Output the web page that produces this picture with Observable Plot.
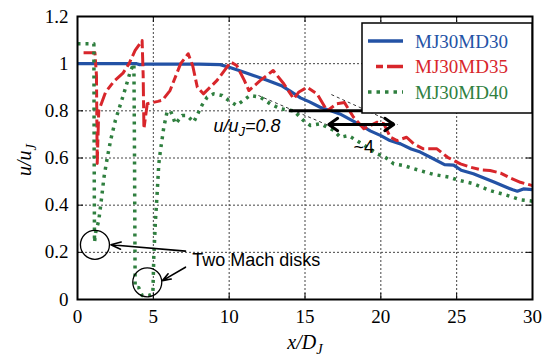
<!DOCTYPE html>
<html><head><meta charset="utf-8">
<script src="https://cdn.jsdelivr.net/npm/d3@7"></script>
<script src="https://cdn.jsdelivr.net/npm/@observablehq/plot@0.6"></script>
<style>body{margin:0;background:#fff}#chart{width:550px;height:356px}</style>
</head><body><div id="chart"></div>
<script>
// ---- data ----
const xTicks = [0, 5, 10, 15, 20, 25, 30];
const yTicks = [0, 0.2, 0.4, 0.6, 0.8, 1.0, 1.2];
const yTickLabels = ["0", "0.2", "0.4", "0.6", "0.8", "1", "1.2"];
const seriesNames = ["MJ30MD30", "MJ30MD35", "MJ30MD40"];
const seriesColors = ["#2352a5", "#d8262b", "#2f7f3f"];

const md30X = [0, 2, 3.9, 4.1, 4.5, 6, 8, 9.4, 10.0, 10.8, 11.6, 12.5, 13.5, 14.0, 14.7, 15.3, 16.0, 16.7, 17.3, 18.0, 18.7, 19.3, 20.0, 20.6, 21.3, 22.0, 22.6, 23.3, 24.2, 24.8, 25.3, 26.1, 26.8, 27.5, 28.2, 28.7, 29.0, 29.4, 30];
const md30Y = [1.0, 1.0, 1.0, 0.996, 0.998, 0.998, 0.998, 0.996, 0.985, 0.968, 0.95, 0.93, 0.905, 0.885, 0.855, 0.838, 0.815, 0.8, 0.787, 0.763, 0.738, 0.715, 0.695, 0.674, 0.66, 0.638, 0.625, 0.602, 0.572, 0.57, 0.548, 0.533, 0.515, 0.497, 0.478, 0.465, 0.459, 0.469, 0.466];

const md35X = [0.4, 1.15, 1.25, 1.3, 1.4, 1.85, 2.4, 3.0, 3.4, 3.8, 4.26, 4.33, 4.38, 4.6, 5.3, 5.6, 6.1, 6.8, 7.3, 7.6, 7.9, 8.3, 9.2, 10.1, 10.5, 11.0, 11.3, 12.06, 12.9, 13.6, 14.26, 14.6, 15.14, 15.8, 16.46, 17.1, 17.6, 18.2, 18.88, 19.76, 20.2, 20.63, 21.07, 21.7, 22.17, 22.8, 23.7, 24.4, 25.25, 25.9, 26.6, 27.2, 27.9, 28.5, 29.2, 30];
const md35Y = [1.046, 1.046, 0.95, 0.577, 0.8, 0.879, 0.925, 0.96, 1.0, 1.056, 1.098, 0.95, 0.724, 0.83, 0.84, 0.845, 0.886, 1.0, 1.042, 0.99, 0.9, 0.872, 0.929, 1.007, 0.992, 0.929, 0.886, 0.929, 0.971, 0.915, 0.851, 0.88, 0.9, 0.872, 0.8, 0.83, 0.835, 0.773, 0.724, 0.752, 0.745, 0.688, 0.674, 0.688, 0.66, 0.639, 0.639, 0.603, 0.575, 0.561, 0.55, 0.547, 0.536, 0.516, 0.497, 0.483];

const md40X = [0, 1.08, 1.1, 1.12, 1.2, 1.4, 1.55, 1.75, 1.96, 2.2, 2.5, 3.05, 3.5, 3.72, 3.76, 3.8, 4.04, 4.26, 4.7, 4.97, 5.03, 5.14, 5.25, 5.36, 5.47, 5.69, 5.9, 6.13, 6.46, 6.9, 7.23, 7.66, 8.2, 8.55, 8.98, 9.53, 9.97, 10.5, 11.38, 12.06, 12.7, 13.4, 14.26, 14.9, 15.36, 16.0, 16.9, 17.33, 17.88, 18.4, 19.1, 19.76, 20.3, 20.85, 21.5, 22.4, 23.5, 24.5, 25.0, 26.1, 27.2, 28.2, 29.2, 30];
const md40Y = [1.084, 1.084, 0.6, 0.243, 0.285, 0.335, 0.41, 0.52, 0.6, 0.68, 0.76, 0.872, 0.97, 1.0, 0.6, 0.052, 0.05, 0.017, 0.017, 0.024, 0.18, 0.335, 0.448, 0.575, 0.632, 0.73, 0.794, 0.801, 0.745, 0.78, 0.78, 0.752, 0.823, 0.858, 0.872, 0.865, 0.844, 0.823, 0.865, 0.858, 0.83, 0.808, 0.8, 0.759, 0.738, 0.745, 0.717, 0.688, 0.695, 0.674, 0.646, 0.618, 0.603, 0.575, 0.568, 0.55, 0.53, 0.519, 0.508, 0.491, 0.462, 0.444, 0.423, 0.417];

// annotations (data coordinates)
const machDisks = [{x: 1.15, y: 0.232}, {x: 4.6, y: 0.073}];
const machArrows = [{x1: 7.12, y1: 0.205, x2: 2.2, y2: 0.232}, {x1: 7.12, y1: 0.137, x2: 5.6, y2: 0.08}];
const envelope = [{x1: 11.93, y1: 0.865, x2: 16.88, y2: 0.729}, {x1: 16.74, y1: 0.869, x2: 21.1, y2: 0.742}];
const levelLine = [{x1: 13.93, x2: 18.77, y: 0.8}];
const widthArrow = [{x1: 18.7, x2: 16.57, y: 0.742}, {x1: 18.7, x2: 20.85, y: 0.742}];
const labels = [
  {x: 8.97, y: 0.712, text: "u/u_J=0.8", size: 18, italic: true},
  {x: 18.2, y: 0.62, text: "~4", size: 18, italic: false},
  {x: 7.56, y: 0.144, text: "Two Mach disks", size: 18, italic: false}
];

const toRows = (xs, ys, s) => xs.map((x, i) => ({x, y: ys[i], s}));
const rows = [
  ...toRows(md30X, md30Y, seriesNames[0]),
  ...toRows(md35X, md35Y, seriesNames[1]),
  ...toRows(md40X, md40Y, seriesNames[2])
];
const dashes = {"MJ30MD30": null, "MJ30MD35": "14,4,8,4", "MJ30MD40": "3,5"};
const widths = {"MJ30MD30": 3.2, "MJ30MD35": 3, "MJ30MD40": 3.5};

const serif = "Liberation Serif";
const sans = "Liberation Sans";
const innerH = 356 - 16 - 57, innerW = 550 - 77 - 18;

const lineMarks = seriesNames.map((n, i) => Plot.line(rows.filter(r => r.s === n), {
  x: "x", y: "y", stroke: seriesColors[i], strokeWidth: widths[n],
  strokeDasharray: dashes[n], strokeLinejoin: "round", strokeLinecap: "butt"
}));

const plot = Plot.plot({
  width: 550, height: 356,
  marginLeft: 77, marginRight: 18, marginTop: 16, marginBottom: 57,
  style: {background: "white", overflow: "visible"},
  x: {domain: [0, 30]},
  y: {domain: [0, 1.2]},
  marks: [
    Plot.gridX(xTicks, {stroke: "#444", strokeOpacity: 1, strokeDasharray: "2,2", strokeWidth: 1}),
    Plot.gridY(yTicks, {stroke: "#444", strokeOpacity: 1, strokeDasharray: "2,2", strokeWidth: 1}),
    Plot.tickX(xTicks, {x: d => d, insetTop: innerH - 6, stroke: "black"}),
    Plot.tickX(xTicks, {x: d => d, insetBottom: innerH - 6, stroke: "black"}),
    Plot.tickY(yTicks, {y: d => d, insetLeft: innerW - 6, stroke: "black"}),
    Plot.tickY(yTicks, {y: d => d, insetRight: innerW - 6, stroke: "black"}),
    Plot.axisX({ticks: xTicks, tickSize: 0, tickPadding: 10, fontSize: 19, label: null}),
    Plot.axisY({ticks: yTicks, tickSize: 0, tickPadding: 9, fontSize: 19, label: null,
      tickFormat: d => yTickLabels[yTicks.indexOf(d)]}),
    Plot.link(envelope, {x1: "x1", y1: "y1", x2: "x2", y2: "y2", stroke: "black", strokeWidth: 0.8, strokeDasharray: "3,3"}),
    ...lineMarks,
    Plot.link(levelLine, {x1: "x1", x2: "x2", y1: "y", y2: "y", stroke: "black", strokeWidth: 3}),
    Plot.arrow(widthArrow, {x1: "x1", x2: "x2", y1: "y", y2: "y", stroke: "black", strokeWidth: 3, headLength: 11, headAngle: 70}),
    Plot.dot(machDisks, {x: "x", y: "y", r: 14.5, stroke: "black", strokeWidth: 1.3, fill: "none"}),
    Plot.arrow(machArrows, {x1: "x1", y1: "y1", x2: "x2", y2: "y2", stroke: "black", strokeWidth: 1.6, headLength: 10, headAngle: 40}),
    ...labels.map(l => Plot.text([l], {x: "x", y: "y", text: "text", textAnchor: "start", lineAnchor: "bottom",
      fontSize: l.size, fontStyle: l.italic ? "italic" : "normal", fill: "black"})),
    Plot.text(["u/u_J"], {frameAnchor: "left", dx: -53, dy: 2, rotate: -90, lineAnchor: "middle", textAnchor: "middle",
      fontSize: 20, fontStyle: "italic", fill: "black"}),
    Plot.text(["x/D_J"], {frameAnchor: "bottom", dy: 49, lineAnchor: "bottom", textAnchor: "middle",
      fontSize: 20, fontStyle: "italic", fill: "black"}),
    Plot.frame({stroke: "black", strokeWidth: 2})
  ]
});

// fonts: serif for everything, sans for the in-plot annotations
const sansTexts = new Set(labels.map(l => l.text));
d3.select(plot).attr("font-family", serif).style("font-family", serif);
d3.select(plot).selectAll("g").each(function () {
  if (this.getAttribute("font-family")) this.setAttribute("font-family", serif);
});
d3.select(plot).selectAll("text").each(function () {
  const isSans = sansTexts.has(this.textContent);
  this.setAttribute("font-family", isSans ? sans : serif);
  this.style.fontFamily = isSans ? sans : serif;
});

// subscripts: turn "a_Jb" into a, subscript J, b
d3.select(plot).selectAll("text").each(function () {
  const el = d3.select(this);
  if (el.selectAll("tspan").size() > 0) return;
  const s = el.text();
  const m = s.match(/^(.*)_(\w)(.*)$/);
  if (!m) return;
  const fs = parseFloat(el.attr("font-size")) || parseFloat(el.node().parentNode.getAttribute("font-size")) || 19;
  el.text(null);
  el.append("tspan").text(m[1]);
  el.append("tspan").attr("dy", (fs * 0.25).toFixed(1)).attr("font-size", (fs * 0.72).toFixed(1)).text(m[2]);
  if (m[3]) el.append("tspan").attr("dy", (-fs * 0.25).toFixed(1)).text(m[3]);
});

// legend box inside the frame, top right
const lg = d3.select(plot).append("g").attr("text-anchor", "start");
lg.append("rect").attr("x", 362).attr("y", 23).attr("width", 170).attr("height", 90)
  .attr("fill", "white").attr("stroke", "black").attr("stroke-width", 1.5);
const legendDash = [null, "7,4,16,4", "3.5,5"];
const legendX1 = [368, 376, 368];
seriesNames.forEach((n, i) => {
  const y = 41 + i * 25.5;
  lg.append("line").attr("x1", legendX1[i]).attr("x2", 403).attr("y1", y).attr("y2", y)
    .attr("stroke", seriesColors[i]).attr("stroke-width", 3.5)
    .attr("stroke-dasharray", legendDash[i]);
  lg.append("text").attr("x", 415).attr("y", y).attr("dy", "0.35em").attr("text-anchor", "start")
    .style("font-family", serif).attr("font-size", 19).attr("fill", seriesColors[i]).text(n);
});

document.getElementById("chart").appendChild(plot);
</script>
</body></html>
